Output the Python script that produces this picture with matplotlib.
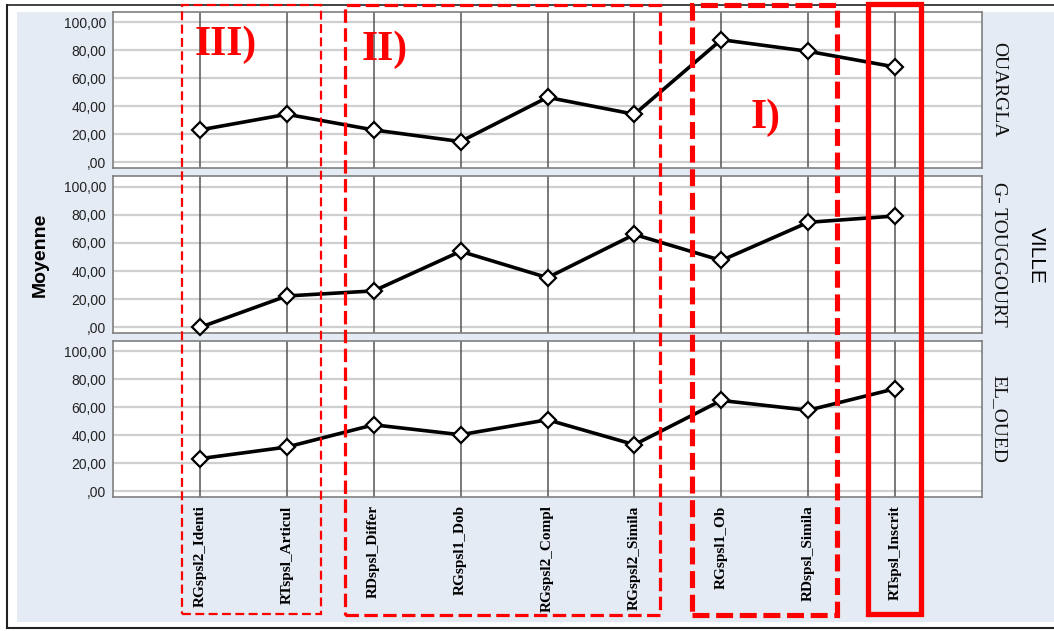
import matplotlib
matplotlib.use("Agg")
import matplotlib.pyplot as plt
from matplotlib.patches import Rectangle
from matplotlib.lines import Line2D

# ---- data -------------------------------------------------------------
categories = ["RGspsl2_Identi", "RTspsl_Articul", "RDspsl_Differ", "RGspsl1_Dob",
              "RGspsl2_Compl", "RGspsl2_Simila", "RGspsl1_Ob", "RDspsl_Simila",
              "RTspsl_Inscrit"]
villes = ["OUARGLA", "G- TOUGGOURT", "EL_OUED"]
ouargla = [23.2, 34.4, 23.2, 14.9, 46.5, 34.4, 87.7, 79.4, 68.2]
touggourt = [0.0, 22.3, 25.9, 54.0, 35.3, 66.0, 47.5, 74.6, 79.1]
el_oued = [23.4, 31.7, 47.6, 40.5, 51.2, 33.4, 65.0, 58.0, 73.4]
series = [ouargla, touggourt, el_oued]
ytick_vals = [0, 20, 40, 60, 80, 100]
ytick_labels = [",00", "20,00", "40,00", "60,00", "80,00", "100,00"]

# ---- figure -----------------------------------------------------------
W, H = 1054, 631
fig = plt.figure(figsize=(W / 100, H / 100), dpi=100)
fig.patch.set_facecolor("white")


def fx(x):
    return x / W


def fy(y):
    return 1 - y / H


# light panel background and outer frame
fig.add_artist(Rectangle((fx(17), fy(622)), fx(1054 - 17) + 0.01, (622 - 12) / H,
                         transform=fig.transFigure, facecolor="#E5EBF4",
                         edgecolor="none", zorder=-10))
fig.add_artist(Line2D([fx(7), fx(7)], [fy(5), fy(628)], transform=fig.transFigure,
                      color="#222222", lw=1.5, zorder=-5))
fig.add_artist(Line2D([fx(7), 1.0], [fy(5), fy(5)], transform=fig.transFigure,
                      color="#222222", lw=1.2, zorder=-5))
fig.add_artist(Line2D([fx(7), 1.0], [fy(628), fy(628)], transform=fig.transFigure,
                      color="#222222", lw=1.5, zorder=-5))

panel_rows = [(12, 168), (176, 333), (341, 497)]
x0, x1 = 113, 982
xs = list(range(len(categories)))

axes = []
for i, ((top, bot), vals, name) in enumerate(zip(panel_rows, series, villes)):
    ax = fig.add_axes([fx(x0), fy(bot), (x1 - x0) / W, (bot - top) / H])
    ax.set_facecolor("white")
    ax.set_xlim(-1, len(categories))
    ax.set_ylim(-4, 107.5)
    for yv in ytick_vals:
        ax.axhline(yv, color="#CFCFCF", lw=1.6, zorder=1)
    for xv in xs:
        ax.axvline(xv, color="#555555", lw=1.1, zorder=2)
    ax.plot(xs, vals, color="black", lw=2.6, marker="D", markersize=8.5,
            markerfacecolor="white", markeredgecolor="black",
            markeredgewidth=1.6, zorder=5, clip_on=False)
    ax.set_yticks(ytick_vals)
    ax.set_yticklabels(ytick_labels, fontsize=10, color="#222222",
                       family="Liberation Sans")
    ax.tick_params(axis="y", length=0, pad=5)
    ax.set_xticks(xs)
    if i < 2:
        ax.set_xticklabels([])
        ax.tick_params(axis="x", length=0)
    else:
        ax.set_xticklabels(categories, rotation=90, fontsize=11,
                           family="Liberation Serif", fontweight="bold",
                           va="top", ha="center")
        ax.tick_params(axis="x", length=0, pad=6)
    for s in ax.spines.values():
        s.set_color("#7F7F7F")
        s.set_linewidth(1.2)
    fig.text(fx(999), fy((top + bot) / 2), name, rotation=-90, ha="center",
             va="center", fontsize=14, family="Liberation Serif", color="#111111")
    axes.append(ax)

fig.text(fx(40), fy(255), "Moyenne", rotation=90, ha="center", va="center",
         fontsize=14, fontweight="bold", family="Liberation Sans")
fig.text(fx(1036), fy(255), "VILLE", rotation=-90, ha="center", va="center",
         fontsize=15, family="Liberation Sans")

# ---- red group outlines ----------------------------------------------
red = "#FF0000"


def box(l, t, r, b, lw, ls):
    fig.add_artist(Rectangle((fx(l), fy(b)), (r - l) / W, (b - t) / H,
                             transform=fig.transFigure, fill=False,
                             edgecolor=red, lw=lw, linestyle=ls, zorder=20))


box(182, 5, 320.5, 614, 1.6, (0, (4, 2)))
box(344.5, 5, 660, 615, 2.3, (0, (4.2, 1.7)))
box(692, 5, 837, 615, 3.7, (0, (3.3, 1.3)))
box(868, 4, 921, 614, 3.8, "solid")

for txt, lx, by in [("III)", 195, 55), ("II)", 362, 60), ("I)", 751, 128)]:
    fig.text(fx(lx), fy(by), txt, ha="left", va="baseline", fontsize=30,
             fontweight="bold", family="Liberation Serif", color=red, zorder=21)

fig.savefig("out.png", dpi=100)
